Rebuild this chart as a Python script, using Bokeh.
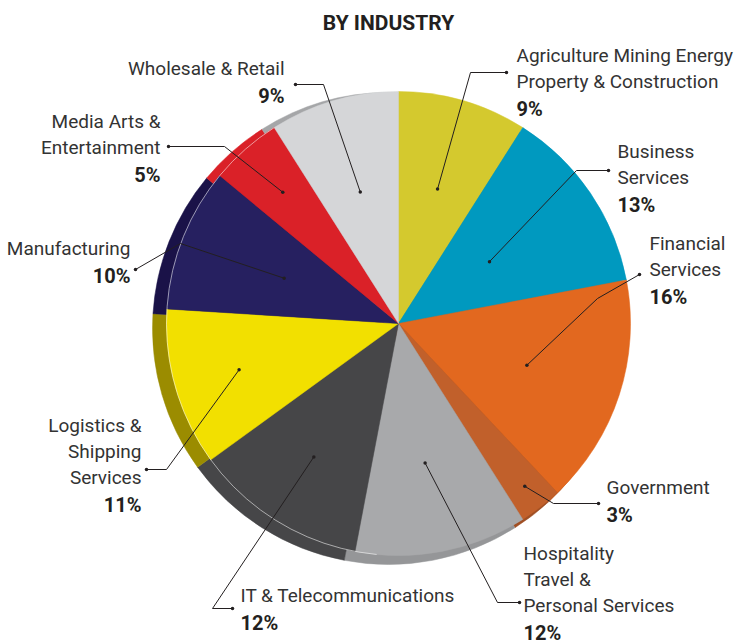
import numpy as np
from bokeh.plotting import figure
from bokeh.models import Range1d, ColumnDataSource
from bokeh.core.properties import value
from bokeh.embed import file_html
from bokeh.resources import INLINE

# ---------------- data ----------------
categories = ["Agriculture Mining Energy Property & Construction", "Business Services",
              "Financial Services", "Government", "Hospitality Travel & Personal Services",
              "IT & Telecommunications", "Logistics & Shipping Services", "Manufacturing",
              "Media Arts & Entertainment", "Wholesale & Retail"]
shares = [9, 13, 16, 3, 12, 12, 11, 10, 5, 9]
label_lines = [["Agriculture Mining Energy", "Property & Construction"],
               ["Business", "Services"],
               ["Financial", "Services"],
               ["Government"],
               ["Hospitality", "Travel &", "Personal Services"],
               ["IT & Telecommunications"],
               ["Logistics &", "Shipping", "Services"],
               ["Manufacturing"],
               ["Media Arts &", "Entertainment"],
               ["Wholesale & Retail"]]
title = "BY INDUSTRY"

# ---------------- styles / layout ----------------
top_colors = ["#d4c92e", "#0099bf", "#e2681f", "#c1602b", "#a8a9ab",
              "#464648", "#f2e000", "#262060", "#da2128", "#d5d6d8"]
rim_colors = ["#b0a622", "#007d9c", "#b9521a", "#a04f24", "#959698",
              "#464648", "#9b8c00", "#1a1248", "#da2128", "#a5a6a8"]

W, H = 736, 644
def px(X): return X
def py(Y): return H - Y

top_c = (398, 323); r_top = 232
bot_c = (388, 328); r_bot = 236

# label anchors (page coords): x, y of first line, alignment
label_anchor = [(516, 55, "left"), (617, 151, "left"), (649, 243, "left"), (606, 487, "left"),
                (523, 553, "left"), (240, 595, "left"), (141, 425, "right"), (130, 248, "right"),
                (160, 121, "right"), (284, 68, "right")]
line_step = 26
pct_step = 27
# leader: outer dot, elbow (page coords), inner radius along slice mid-angle
leader_outer = [(506, 72), (608, 170), (639, 274), (598, 503), (519, 602),
                (232, 608), (146, 469), (135, 269), (168, 146), (295, 84)]
leader_elbow = [(470, 72), (576, 170), (597, 298), (553, 503), (497, 602),
                (212, 608), (166, 469), (180, 243), (224, 146), (323, 84)]
leader_inner_r = [140, 110, 135, 206, 142, 158, 166, 123, 175, 137]

font = "Roboto"
text_color = "#333333"

# ---------------- geometry from data ----------------
vals = np.array(shares, dtype=float)
frac = vals / vals.sum()
cum_end = np.cumsum(frac)
cum_start = cum_end - frac
start_ang = np.pi / 2 - 2 * np.pi * cum_end
end_ang = np.pi / 2 - 2 * np.pi * cum_start
mid_ang = (start_ang + end_ang) / 2

p = figure(width=W, height=H, x_range=Range1d(0, W), y_range=Range1d(0, H),
           output_backend="svg", toolbar_location=None, min_border=0,
           background_fill_color="white", border_fill_color="white")
p.axis.visible = False
p.grid.visible = False
p.outline_line_color = None

# rim (bottom disk)
rim_src = ColumnDataSource(dict(s=start_ang, e=end_ang, c=rim_colors))
p.wedge(x=px(bot_c[0]), y=py(bot_c[1]), radius=r_bot, start_angle="s", end_angle="e",
        fill_color="c", line_color="c", line_width=0.5, source=rim_src)

# top face
top_src = ColumnDataSource(dict(s=start_ang, e=end_ang, c=top_colors, cat=categories))
p.wedge(x=px(top_c[0]), y=py(top_c[1]), radius=r_top, start_angle="s", end_angle="e",
        fill_color="c", line_color="c", line_width=0.5, source=top_src)

# faint top-face edge on the lower-left rim
p.arc(x=px(top_c[0]), y=py(top_c[1]), radius=r_top,
      start_angle=np.pi / 2 - 2 * np.pi * 0.91, end_angle=np.pi / 2 - 2 * np.pi * 0.515,
      line_color="white", line_alpha=0.55, line_width=1)

# leaders
cx, cy = px(top_c[0]), py(top_c[1])
xs, ys, dot_x, dot_y = [], [], [], []
for i in range(len(shares)):
    ix = cx + leader_inner_r[i] * np.cos(mid_ang[i])
    iy = cy + leader_inner_r[i] * np.sin(mid_ang[i])
    ox, oy = px(leader_outer[i][0]), py(leader_outer[i][1])
    ex, ey = px(leader_elbow[i][0]), py(leader_elbow[i][1])
    xs.append([ox, ex, ix]); ys.append([oy, ey, iy])
    dot_x += [ox, ix]; dot_y += [oy, iy]
p.multi_line(xs=xs, ys=ys, line_color="#231f20", line_width=1)
p.scatter(x=dot_x, y=dot_y, size=3.5, marker="circle", fill_color="#231f20", line_color=None)

# labels
lx, ly, lt, la = [], [], [], []
qx, qy, qt, qa = [], [], [], []
for i, lines in enumerate(label_lines):
    X, Y, al = label_anchor[i]
    for k, t in enumerate(lines):
        lx.append(px(X)); ly.append(py(Y + k * line_step)); lt.append(t); la.append(al)
    qx.append(px(X)); qy.append(py(Y + (len(lines) - 1) * line_step + pct_step))
    qt.append(f"{shares[i]}%"); qa.append(al)

p.text(x="x", y="y", text="t", text_align="a", source=ColumnDataSource(dict(x=lx, y=ly, t=lt, a=la)),
       text_baseline="middle", text_font=value(font), text_font_size="19px", text_color=text_color)
p.text(x="x", y="y", text="t", text_align="a", source=ColumnDataSource(dict(x=qx, y=qy, t=qt, a=qa)),
       text_baseline="middle", text_font=value(font), text_font_size="20px", text_font_style="bold",
       text_color="#231f20")

p.text(x=[px(388)], y=[py(22)], text=[title], text_align="center", text_baseline="middle",
       text_font=value(font), text_font_size="21px", text_font_style="bold", text_color="#231f20")

open("out.html", "w").write(file_html(p, INLINE))
